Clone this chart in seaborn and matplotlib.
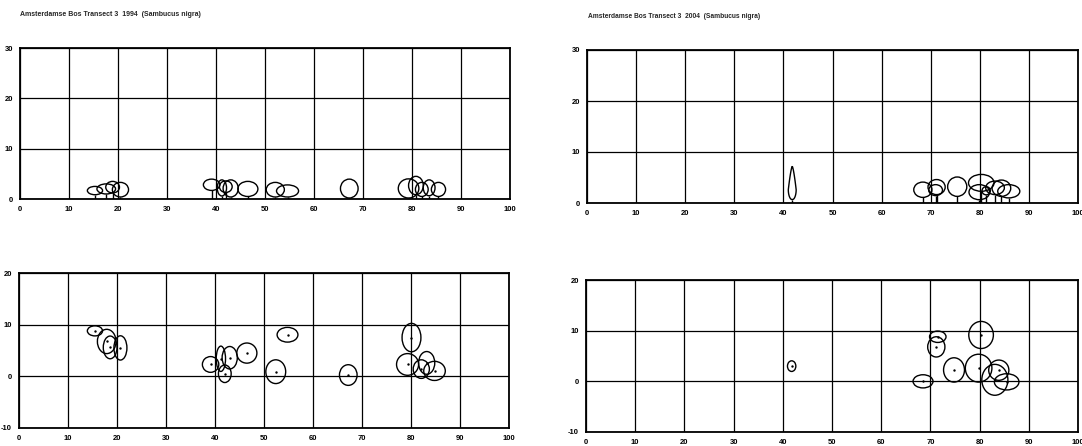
import numpy as np
import matplotlib
matplotlib.use("Agg")
import matplotlib.pyplot as plt
from matplotlib.patches import Ellipse, Polygon
import seaborn as sns
import pandas as pd

sns.set_theme(style="white")
plt.rcParams['font.family'] = ['Liberation Sans', 'DejaVu Sans']

title_1994 = "Amsterdamse Bos Transect 3  1994  (Sambucus nigra)"
title_2004 = "Amsterdamse Bos Transect 3  2004  (Sambucus nigra)"

x_ticks = [0, 10, 20, 30, 40, 50, 60, 70, 80, 90, 100]
side_ticks = [0, 10, 20, 30]
plan_ticks = [-10, 0, 10, 20]

# --- 1994: crown projections (plan view), metres along / across transect
plan94_x = [15.5, 17.9, 18.6, 20.7, 39.1, 41.2, 43.0, 42.0, 46.5, 52.4, 54.8, 67.2, 80.1, 79.3, 82.1, 83.2, 84.8]
plan94_y = [8.8, 6.75, 5.6, 5.5, 2.3, 3.4, 3.6, 0.5, 4.5, 0.9, 8.05, 0.25, 7.5, 2.3, 1.4, 2.6, 1.05]
plan94_w = [3.1, 3.8, 2.8, 2.65, 3.35, 1.9, 3.1, 2.6, 4.1, 4.05, 4.25, 3.6, 3.85, 4.5, 3.3, 3.3, 4.4]
plan94_h = [1.95, 4.7, 4.4, 4.7, 3.05, 4.9, 4.35, 3.4, 3.9, 4.6, 2.85, 4.0, 5.5, 4.2, 3.6, 4.4, 3.7]

# --- 1994: side profile (crown centre x, crown width, crown base, crown top)
side94_x = [15.3, 17.6, 18.9, 20.5, 39.1, 41.2, 43.0, 42.0, 46.5, 52.1, 54.6, 67.2, 79.3, 80.8, 82.0, 83.5, 85.4]
side94_w = [3.1, 3.8, 2.8, 3.3, 3.35, 1.9, 3.1, 2.6, 4.1, 3.7, 4.5, 3.6, 4.2, 3.0, 2.6, 2.4, 2.9]
side94_base = [0.85, 1.0, 1.2, 0.4, 1.7, 0.6, 0.4, 1.3, 0.5, 0.4, 0.4, 0.2, 0.2, 0.85, 0.5, 0.65, 0.5]
side94_top = [2.5, 3.0, 3.5, 3.3, 3.95, 3.8, 3.8, 3.6, 3.5, 3.3, 2.8, 3.95, 4.0, 4.5, 3.3, 3.8, 3.3]

# --- 2004: crown projections
plan04_x = [71.5, 71.2, 68.5, 74.8, 79.8, 80.3, 83.9, 83.1, 85.5, 41.8]
plan04_y = [8.8, 6.8, 0.0, 2.25, 2.6, 9.15, 2.2, 0.3, -0.1, 3.0]
plan04_w = [3.35, 3.5, 4.05, 4.25, 5.4, 5.0, 4.1, 5.3, 5.0, 1.7]
plan04_h = [2.25, 4.0, 2.6, 4.8, 5.5, 5.35, 4.0, 6.1, 3.2, 2.1]

# --- 2004: side profile of the broad crowns
side04_x = [68.4, 71.2, 71.0, 75.4, 80.3, 79.9, 83.1, 84.4, 85.9, 81.3]
side04_w = [3.7, 3.5, 2.8, 3.9, 5.2, 4.2, 3.8, 3.8, 4.5, 1.7]
side04_base = [1.1, 1.65, 1.45, 1.3, 2.3, 0.65, 1.65, 1.3, 1.0, 1.6]
side04_top = [4.1, 4.6, 3.6, 5.1, 5.6, 3.6, 4.3, 4.5, 3.6, 3.2]

# --- 2004: the single narrow, columnar crown
column04_x = 41.8
column04_w = 1.6
column04_base = 0.65
column04_top = 7.2

LW = 1.0


def style_axes(ax, ylim, yticks):
    ax.set_xlim(0, 100)
    ax.set_ylim(*ylim)
    ax.set_xticks(x_ticks)
    ax.set_yticks(yticks)
    ax.set_xticklabels([str(v) for v in x_ticks], fontsize=5.5, fontweight='bold')
    ax.set_yticklabels([str(v) for v in yticks], fontsize=5.5, fontweight='bold')
    ax.grid(True, color='black', linewidth=0.9)
    ax.set_axisbelow(True)
    for sp in ax.spines.values():
        sp.set_color('black')
        sp.set_linewidth(1.3)
    ax.tick_params(axis='both', length=2, width=0.8, pad=3, colors='black')
    ax.set_xlabel('')
    ax.set_ylabel('')
    ax.set_facecolor('white')


def draw_plan(ax, xs, ys, ws, hs):
    for x, y, w, h in zip(xs, ys, ws, hs):
        ax.add_patch(Ellipse((x, y), w, h, fill=False, edgecolor='black', linewidth=LW, zorder=3))
    df = pd.DataFrame({'x': xs, 'y': ys})
    sns.scatterplot(data=df, x='x', y='y', ax=ax, color='black', s=3, linewidth=0, zorder=4, legend=False)


def draw_side(ax, xs, ws, bases, tops):
    for x, w, b, t in zip(xs, ws, bases, tops):
        ax.add_patch(Ellipse((x, (b + t) / 2), w, t - b, fill=False, edgecolor='black', linewidth=LW, zorder=3))
    ax.vlines(xs, 0, bases, colors='black', linewidth=LW, zorder=3)


def draw_column(ax, x, w, base, top):
    s = np.linspace(0, 1, 60)
    split = 0.3
    hw = np.where(
        s < split,
        (w / 2) * np.sqrt(np.clip(1 - ((split - s) / split) ** 2, 0, 1)),
        (w / 2) * np.clip(1 - (s - split) / (1 - split), 0, 1) ** 0.7,
    )
    z = base + s * (top - base)
    pts = np.concatenate([np.column_stack([x + hw, z]), np.column_stack([x - hw[::-1], z[::-1]])])
    ax.add_patch(Polygon(pts, closed=True, fill=False, edgecolor='black', linewidth=LW, zorder=3))
    ax.vlines([x], 0, base, colors='black', linewidth=LW, zorder=3)


W, H = 1082, 446
fig = plt.figure(figsize=(W / 100, H / 100), dpi=100)
fig.patch.set_facecolor('white')


def axes_px(x0, x100, ytop, ybot):
    return fig.add_axes([x0 / W, 1 - ybot / H, (x100 - x0) / W, (ybot - ytop) / H])


ax_s94 = axes_px(20, 510, 48, 199)
ax_p94 = axes_px(19, 509, 273, 428)
ax_s04 = axes_px(587, 1078, 50, 203)
ax_p04 = axes_px(586, 1078, 280, 432)

draw_side(ax_s94, side94_x, side94_w, side94_base, side94_top)
draw_plan(ax_p94, plan94_x, plan94_y, plan94_w, plan94_h)
draw_side(ax_s04, side04_x, side04_w, side04_base, side04_top)
draw_column(ax_s04, column04_x, column04_w, column04_base, column04_top)
draw_plan(ax_p04, plan04_x, plan04_y, plan04_w, plan04_h)

style_axes(ax_s94, (0, 30), side_ticks)
style_axes(ax_p94, (-10, 20), plan_ticks)
style_axes(ax_s04, (0, 30), side_ticks)
style_axes(ax_p04, (-10, 20), plan_ticks)

fig.text(20 / W, 1 - 14 / H, title_1994, fontsize=5.0, fontweight='bold', va='center', ha='left')
fig.text(588 / W, 1 - 17 / H, title_2004, fontsize=4.8, fontweight='bold', va='center', ha='left')

fig.savefig('out.png', dpi=100, facecolor='white')
